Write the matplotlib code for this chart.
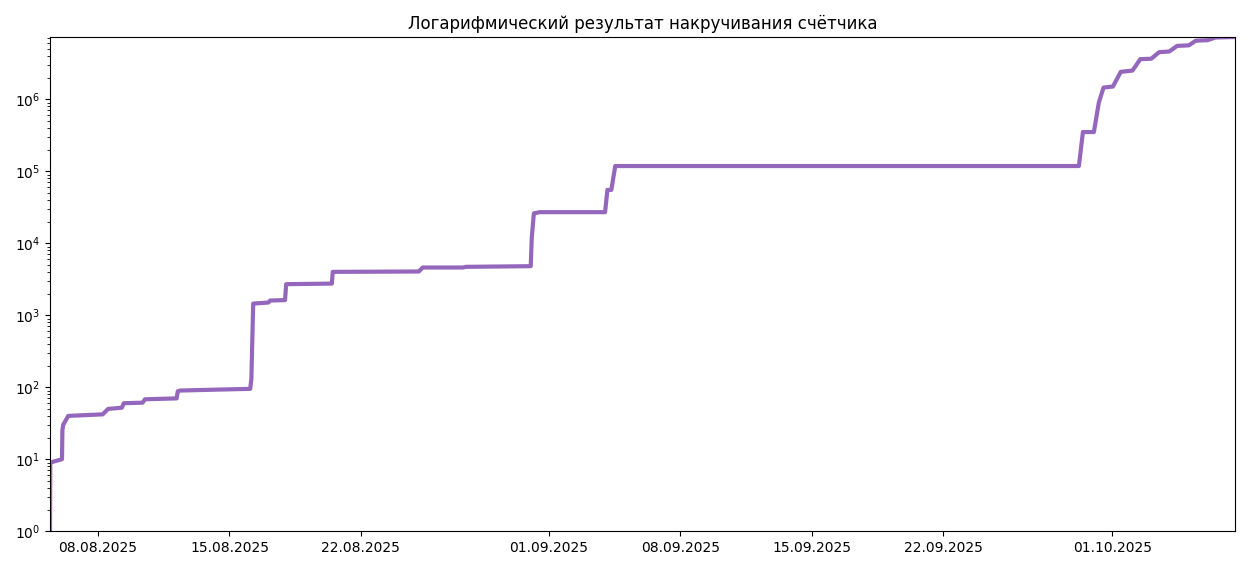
import matplotlib
matplotlib.use("Agg")
import matplotlib.pyplot as plt
import matplotlib.dates as mdates
import pandas as pd

times = ["2025-08-05 10:40","2025-08-05 11:00","2025-08-06 02:00","2025-08-06 02:30","2025-08-06 03:30","2025-08-06 10:00",
"2025-08-08 06:00","2025-08-08 13:00","2025-08-09 06:30","2025-08-09 09:00","2025-08-10 09:00","2025-08-10 12:00",
"2025-08-12 04:30","2025-08-12 06:00","2025-08-12 09:00","2025-08-16 02:30","2025-08-16 04:00","2025-08-16 06:20",
"2025-08-17 01:40","2025-08-17 04:00","2025-08-17 23:00","2025-08-18 00:30","2025-08-20 10:50","2025-08-20 12:00",
"2025-08-25 02:00","2025-08-25 07:00","2025-08-27 10:30","2025-08-27 14:00","2025-08-31 01:00","2025-08-31 02:20",
"2025-08-31 05:00","2025-08-31 12:30","2025-09-04 00:00","2025-09-04 03:00","2025-09-04 08:00","2025-09-04 13:00",
"2025-09-29 05:30","2025-09-29 10:40","2025-09-30 00:40","2025-09-30 07:00","2025-09-30 13:00","2025-10-01 01:00",
"2025-10-01 11:00","2025-10-02 02:00","2025-10-02 12:00","2025-10-03 02:00","2025-10-03 12:00","2025-10-04 01:00",
"2025-10-04 11:00","2025-10-05 02:00","2025-10-05 11:00","2025-10-06 02:00","2025-10-06 12:00","2025-10-07 13:00"]
values = [1,9,10,25,30,40,
42,50,52,60,61,68,
70,88,90,95,130,1450,
1500,1600,1620,2700,2750,4000,
4050,4600,4600,4700,4800,12000,
26000,27000,27000,55000,55000,118000,
118000,350000,350000,900000,1450000,1500000,
2400000,2500000,3600000,3650000,4500000,4600000,
5500000,5600000,6500000,6600000,7200000,7300000]

t = pd.to_datetime(times)
fig, ax = plt.subplots(figsize=(12.5, 5.7), dpi=100)
fig.subplots_adjust(left=0.04, right=0.988, top=0.935, bottom=0.068)
ax.plot(t, values, color="#9467bd", linewidth=3)
ax.set_yscale("log")
ax.set_ylim(1, 7.3e6)
ax.set_xlim(t[0], t[-1])
ax.set_xticks(pd.to_datetime(["2025-08-08","2025-08-15","2025-08-22","2025-09-01","2025-09-08","2025-09-15","2025-09-22","2025-10-01"]))
ax.xaxis.set_major_formatter(mdates.DateFormatter("%d.%m.%Y"))
ax.set_title("Логарифмический результат накручивания счётчика")
fig.savefig("out.png")
